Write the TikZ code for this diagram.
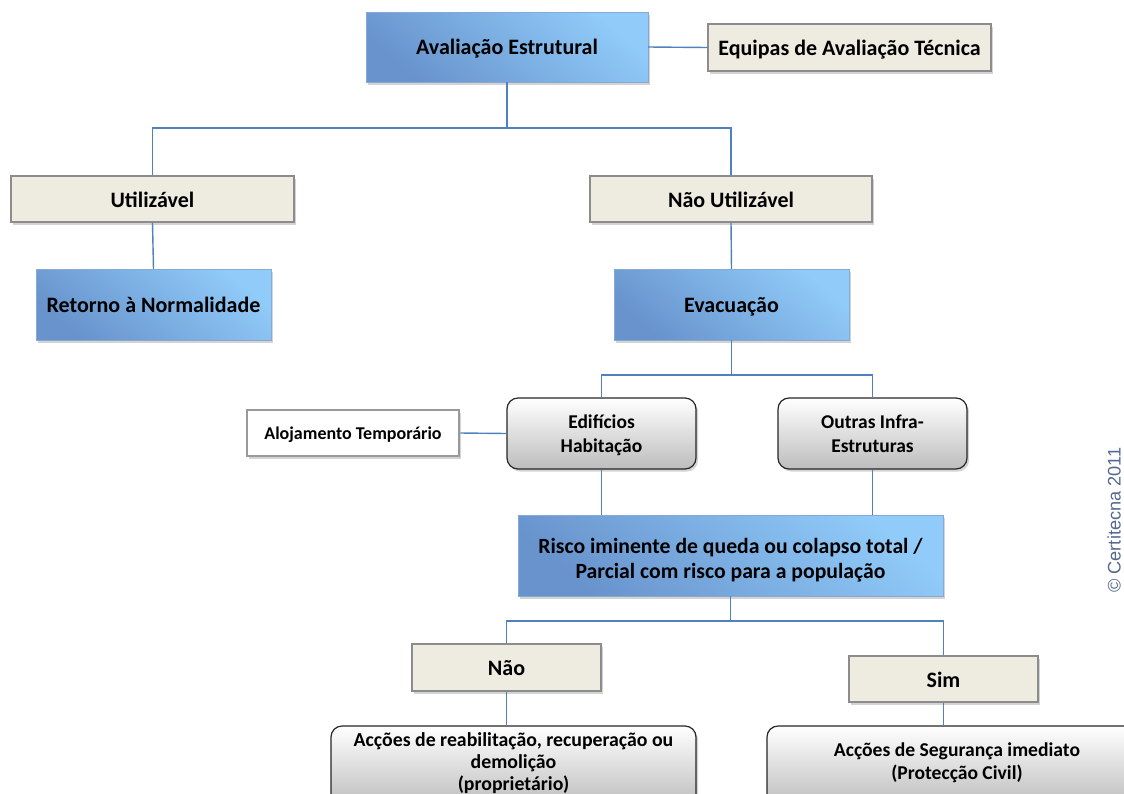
\documentclass[tikz,border=0pt]{standalone}
\usepackage{fontspec}
\setmainfont{Carlito}
\newfontfamily\arialfont{Liberation Sans}
\usetikzlibrary{shadows}
\definecolor{lineblue}{HTML}{4F81BD}
\definecolor{blueL}{HTML}{90CBF9}
\definecolor{blueD}{HTML}{6893CC}
\definecolor{beige}{HTML}{EEECE1}
\definecolor{beigeborder}{HTML}{8C8C8C}
\definecolor{grayB}{HTML}{BDBDBD}
\definecolor{copycol}{HTML}{566890}
\tikzset{
  base/.style={align=center, inner sep=2pt, font=\bfseries\fontsize{22}{26}\selectfont,
    text height=16pt, text depth=0pt,
    drop shadow={shadow xshift=2pt, shadow yshift=-2.5pt, opacity=0.35}},
  bluebox/.style={base, draw=blueD!80!white, line width=0.4pt, top color=blueL, bottom color=blueD, shading angle=-40},
  beigebox/.style={base, draw=beigeborder, line width=1.3pt, fill=beige},
  roundbox/.style={base, draw=black!85, line width=1.2pt, rounded corners=11pt, top color=white, bottom color=grayB},
  whitebox/.style={base, draw=black!40, line width=2.6pt, fill=white},
  conn/.style={draw=lineblue, line width=1.4pt},
}
\begin{document}
\begin{tikzpicture}[x=1pt, y=-1pt]
\useasboundingbox (0,0) rectangle (1124,793);
\clip (0,0) rectangle (1124,793);
% nodes
\node[bluebox, minimum width=282pt, minimum height=70pt, text height=15pt] (av) at (507,47) {Avaliação Estrutural};
\node[beigebox, minimum width=283pt, minimum height=47pt] (eq) at (849.5,47.5) {Equipas de Avaliação Técnica};
\node[beigebox, minimum width=283pt, minimum height=46pt] (ut) at (152.5,199) {Utilizável};
\node[beigebox, minimum width=282pt, minimum height=46pt] (nu) at (731,199) {Não Utilizável};
\node[bluebox, minimum width=235pt, minimum height=71pt] (ret) at (153.5,304.5) {Retorno à Normalidade};
\node[bluebox, minimum width=235pt, minimum height=71pt, text height=15pt] (ev) at (731.5,304.5) {Evacuação};
\node[whitebox, minimum width=212pt, minimum height=46pt, font=\bfseries\fontsize{18}{21}\selectfont, text height=12pt] (al) at (353,433) {Alojamento Temporário};
\node[roundbox, minimum width=189pt, minimum height=71pt, font=\bfseries\fontsize{19.5}{24}\selectfont, text height=37pt, text depth=0pt] (ed) at (601.5,433.5) {Edifícios\\Habitação};
\node[roundbox, minimum width=189pt, minimum height=71pt, font=\bfseries\fontsize{19.5}{24}\selectfont, text height=37pt, text depth=0pt] (ou) at (872.5,433.5) {Outras Infra-\\Estruturas};
\node[bluebox, minimum width=425pt, minimum height=81pt, font=\bfseries\fontsize{21.7}{25}\selectfont, text height=45pt, text depth=0pt] (ri) at (730.5,555.5) {Risco iminente de queda ou colapso total /\\Parcial com risco para a população};
\node[beigebox, minimum width=189pt, minimum height=47pt] (nao) at (506.5,667.5) {Não};
\node[beigebox, minimum width=189pt, minimum height=46pt] (sim) at (943.5,679) {Sim};
\node[roundbox, minimum width=365pt, minimum height=80pt, font=\bfseries\fontsize{19.8}{22}\selectfont, text height=48pt, text depth=0pt] (ar) at (513.5,766) {Acções de reabilitação, recuperação ou\\demolição\\(proprietário)};
\node[roundbox, minimum width=380pt, minimum height=80pt, font=\bfseries\fontsize{19.6}{23}\selectfont, text height=26pt, text depth=0pt] (as) at (957,766) {Acções de Segurança imediato\\(Protecção Civil)};
\node[rotate=90, text=copycol, font=\arialfont\fontsize{18.2}{21}\selectfont] (cp) at (1114,520) {\textcopyright{} Certitecna 2011};
% junctions
\coordinate (j1) at (507,128);
\coordinate (j2) at (731.5,375);
\coordinate (j3) at (730.5,621);
% connectors
\draw[conn] (av.east) -- (eq.west);
\draw[conn] (av.south) -- (j1);
\draw[conn] (ut.north) |- (j1) -| (nu.north);
\draw[conn] (ut.south) -- (ret.north);
\draw[conn] (nu.south) -- (ev.north);
\draw[conn] (ev.south) -- (j2);
\draw[conn] (ed.north) |- (j2) -| (ou.north);
\draw[conn] (al.east) -- (ed.west);
\draw[conn] (ed.south) -- (ed.south |- ri.north);
\draw[conn] (ou.south) -- (ou.south |- ri.north);
\draw[conn] (ri.south) -- (j3);
\draw[conn] (nao.north) |- (j3) -| (sim.north);
\draw[conn] (nao.south) -- (nao.south |- ar.north);
\draw[conn] (sim.south) -- (as.north -| sim.south);
\end{tikzpicture}
\end{document}
